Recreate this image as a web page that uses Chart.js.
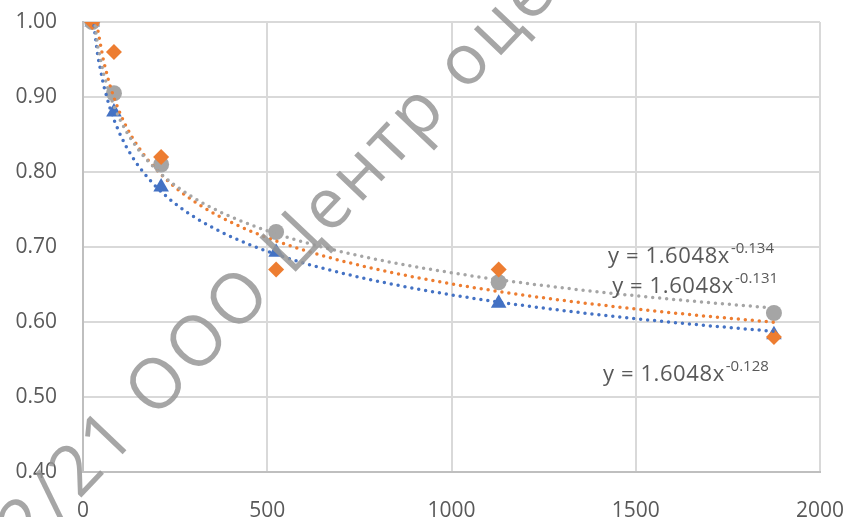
<!DOCTYPE html>
<html>
<head>
<meta charset="utf-8">
<script src="https://cdn.jsdelivr.net/npm/chart.js@4"></script>
<style>
  html, body { margin: 0; padding: 0; background: #fff; }
  #wrap { width: 849px; height: 517px; }
</style>
</head>
<body>
<div id="wrap"><canvas id="c"></canvas></div>
<script>
// data
const xValues = [25, 84, 212, 524, 1128, 1875];
const orangeValues = [1.00, 0.96, 0.82, 0.67, 0.67, 0.58];
const grayValues = [1.00, 0.905, 0.81, 0.72, 0.653, 0.612];
const blueValues = [1.00, 0.88, 0.78, 0.693, 0.625, 0.583];

const xTicks = [0, 500, 1000, 1500, 2000];
const yTicks = [0.40, 0.50, 0.60, 0.70, 0.80, 0.90, 1.00];

const equationTexts = ['y = 1.6048x', 'y = 1.6048x', 'y = 1.6048x'];
const equationPowers = ['-0.134', '-0.131', '-0.128'];

const ORANGE = '#ED7D31', GRAY = '#A5A5A5', BLUE = '#4472C4', TEXT = '#595959';

function toPoints(ys) {
  return xValues.map((x, i) => ({ x: x, y: ys[i] }));
}

// power trendline (least squares on ln x / ln y), like Excel does
function powerFit(ys) {
  const n = xValues.length;
  let sx = 0, sy = 0, sxx = 0, sxy = 0;
  for (let i = 0; i < n; i++) {
    const lx = Math.log(xValues[i]), ly = Math.log(ys[i]);
    sx += lx; sy += ly; sxx += lx * lx; sxy += lx * ly;
  }
  const b = (n * sxy - sx * sy) / (n * sxx - sx * sx);
  const a = Math.exp((sy - b * sx) / n);
  const pts = [];
  const x0 = xValues[0], x1 = xValues[n - 1];
  for (let k = 0; k <= 120; k++) {
    const x = x0 + (x1 - x0) * k / 120;
    pts.push({ x: x, y: a * Math.pow(x, b) });
  }
  return pts;
}

function trend(ys, color) {
  return {
    type: 'line',
    data: powerFit(ys),
    borderColor: color,
    borderWidth: 3.5,
    borderDash: [0, 7],
    borderCapStyle: 'round',
    pointRadius: 0,
    fill: false,
    tension: 0,
    order: 0
  };
}

// equation labels + watermark
const overlay = {
  id: 'overlay',
  afterDraw(chart) {
    const ctx = chart.ctx;
    const xs = chart.scales.x, ys = chart.scales.y;
    const anchors = [[1425, 0.679], [1436, 0.639], [1411, 0.522]];
    ctx.save();
    ctx.fillStyle = TEXT;
    ctx.textBaseline = 'alphabetic';
    ctx.textAlign = 'left';
    anchors.forEach((a, i) => {
      const px = xs.getPixelForValue(a[0]);
      const py = ys.getPixelForValue(a[1]);
      ctx.font = '22px "Open Sans"';
      ctx.letterSpacing = '0.6px';
      ctx.fillText(equationTexts[i], px, py);
      const w = ctx.measureText(equationTexts[i]).width;
      ctx.font = '15px "Open Sans"';
      ctx.letterSpacing = '0px';
      ctx.fillText(equationPowers[i], px + w + 1, py - 10);
    });
    ctx.restore();

    ctx.save();
    ctx.translate(155, 420);
    ctx.rotate(-46.5 * Math.PI / 180);
    ctx.fillStyle = 'rgba(150,150,150,0.85)';
    ctx.font = '70px "Open Sans"';
    ctx.textBaseline = 'alphabetic';
    ctx.letterSpacing = '4px';
    ctx.textAlign = 'left';
    ctx.fillText('ООО Центр оценки', 0, 0);
    ctx.textAlign = 'right';
    ctx.fillText('122/21 ', 0, 0);
    ctx.restore();
  }
};

new Chart(document.getElementById('c'), {
  type: 'scatter',
  data: {
    datasets: [
      {
        data: toPoints(orangeValues),
        pointStyle: 'rectRot',
        pointRadius: 8,
        backgroundColor: ORANGE,
        borderColor: ORANGE,
        borderWidth: 0,
        order: 1
      },
      {
        data: toPoints(grayValues),
        pointStyle: 'circle',
        pointRadius: 8,
        backgroundColor: GRAY,
        borderColor: GRAY,
        borderWidth: 0,
        order: 2
      },
      {
        data: toPoints(blueValues),
        pointStyle: 'triangle',
        pointRadius: 9,
        backgroundColor: BLUE,
        borderColor: BLUE,
        borderWidth: 0,
        order: 3
      },
      trend(grayValues, GRAY),
      trend(orangeValues, ORANGE),
      trend(blueValues, BLUE)
    ]
  },
  options: {
    responsive: true,
    maintainAspectRatio: false,
    animation: false,
    layout: { padding: { top: 22, right: 29, left: 0, bottom: 0 } },
    plugins: {
      legend: { display: false },
      tooltip: { enabled: false }
    },
    scales: {
      x: {
        type: 'linear',
        min: 0,
        max: 2000,
        afterFit: (s) => { s.height = 45; s.paddingLeft = 0; s.paddingRight = 0; },
        afterBuildTicks: (s) => { s.ticks = xTicks.map(v => ({ value: v })); },
        ticks: {
          color: TEXT,
          font: { family: 'Open Sans', size: 21 },
          padding: 26,
          maxRotation: 0,
          callback: (v) => String(v)
        },
        grid: { color: '#d9d9d9', lineWidth: 2, drawTicks: false },
        border: { color: '#bfbfbf', width: 2 }
      },
      y: {
        min: 0.4,
        max: 1.0,
        afterFit: (s) => { s.width = 83; s.paddingTop = 0; s.paddingBottom = 0; },
        afterBuildTicks: (s) => { s.ticks = yTicks.map(v => ({ value: v })); },
        ticks: {
          color: TEXT,
          font: { family: 'Open Sans', size: 21 },
          padding: 26,
          callback: (v) => Number(v).toFixed(2)
        },
        grid: { color: '#d9d9d9', lineWidth: 2, drawTicks: false },
        border: { color: '#bfbfbf', width: 2 }
      }
    }
  },
  plugins: [overlay]
});
</script>
</body>
</html>
